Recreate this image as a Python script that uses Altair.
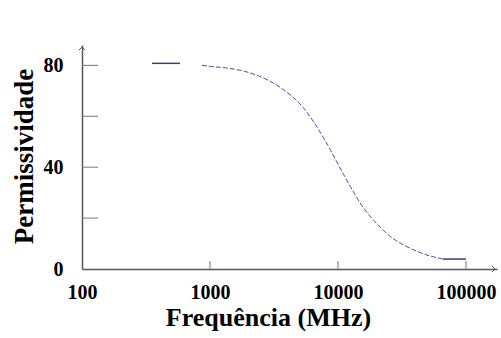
import altair as alt
import pandas as pd

# data
seg1_freq = [352, 584]
seg1_val = [80.8, 80.8]
curve_freq = [866, 1000, 1432, 2328, 3524, 5333, 7910, 10940, 15670, 21300, 26900, 36500, 49500, 66100]
curve_val = [80.0, 79.6, 78.8, 76.1, 71.4, 63.5, 50.6, 37.6, 24.3, 16.5, 12.0, 8.2, 5.5, 3.9]
seg3_freq = [66100, 100000]
seg3_val = [3.9, 3.9]
x_ticks = [100, 1000, 10000, 100000]
x_tick_marks = [1000, 10000, 100000]
y_labels = [0, 40, 80]
y_tick_marks = [20, 40, 60, 80]

W, H = 415, 224
FONT = "Liberation Serif"
LINE = "#3c3c8c"
AX = "#555555"

xs = alt.Scale(type="log", domain=[100, 174700], nice=False)
ys = alt.Scale(domain=[0, 88], nice=False)

xaxis = alt.Axis(values=x_ticks, format="d", ticks=False, grid=False,
                 domainColor=AX, domainWidth=1.5, labelFont=FONT, labelFontWeight="bold",
                 labelFontSize=20, labelColor="black", labelPadding=13, labelFlush=False,
                 labelOverlap=False,
                 title="Frequência (MHz)", titleFont=FONT, titleFontWeight="bold",
                 titleFontSize=26, titleColor="black", titleX=186, titleY=56,
                 titleAlign="center", titleBaseline="alphabetic")
yaxis = alt.Axis(values=y_labels, ticks=False, grid=False,
                 domainColor=AX, domainWidth=1.5, labelFont=FONT, labelFontWeight="bold",
                 labelFontSize=20, labelColor="black", labelPadding=19,
                 title="Permissividade", titleFont=FONT, titleFontWeight="bold",
                 titleFontSize=27, titleColor="black", titleX=-50, titleY=111,
                 titleAngle=-90, titleAlign="center", titleBaseline="alphabetic")

d1 = pd.DataFrame({"f": seg1_freq, "v": seg1_val})
d2 = pd.DataFrame({"f": curve_freq, "v": curve_val})
d3 = pd.DataFrame({"f": seg3_freq, "v": seg3_val})

base1 = alt.Chart(d1).mark_line(color=LINE, strokeWidth=1.5).encode(
    x=alt.X("f:Q", scale=xs, axis=xaxis),
    y=alt.Y("v:Q", scale=ys, axis=yaxis),
)
curve = alt.Chart(d2).mark_line(color="#5050a0", strokeWidth=1, strokeDash=[5, 2],
                                interpolate="monotone").encode(
    x=alt.X("f:Q", scale=xs), y=alt.Y("v:Q", scale=ys))
seg3 = alt.Chart(d3).mark_line(color=LINE, strokeWidth=1.5).encode(
    x=alt.X("f:Q", scale=xs), y=alt.Y("v:Q", scale=ys))

ytk = alt.Chart(pd.DataFrame({"v": y_tick_marks})).mark_rule(color="#777777", strokeWidth=1).encode(
    y=alt.Y("v:Q", scale=ys), x=alt.value(0), x2=alt.value(16))
xtk = alt.Chart(pd.DataFrame({"f": x_tick_marks})).mark_rule(color="#777777", strokeWidth=1).encode(
    x=alt.X("f:Q", scale=xs), y=alt.value(H), y2=alt.value(H - 8))

arrow_up = alt.Chart(pd.DataFrame({"a": [0]})).mark_point(
    shape="M-1,1L0,0L1,1", size=40, filled=False, color=AX, strokeWidth=1, opacity=1).encode(
    x=alt.value(0), y=alt.value(2))
arrow_right = alt.Chart(pd.DataFrame({"a": [0]})).mark_point(
    shape="M-1,-1L0,0L-1,1", size=40, filled=False, color=AX, strokeWidth=1, opacity=1).encode(
    x=alt.value(W - 2), y=alt.value(H))

chart = alt.layer(base1, curve, seg3, ytk, xtk, arrow_up, arrow_right).properties(
    width=W, height=H,
    autosize=alt.AutoSizeParams(type="none"),
    padding={"left": 82, "top": 45, "right": 4, "bottom": 69},
    background="white",
).configure_view(stroke=None)

chart.save("out.html", embed_options={"renderer": "svg", "actions": False})
